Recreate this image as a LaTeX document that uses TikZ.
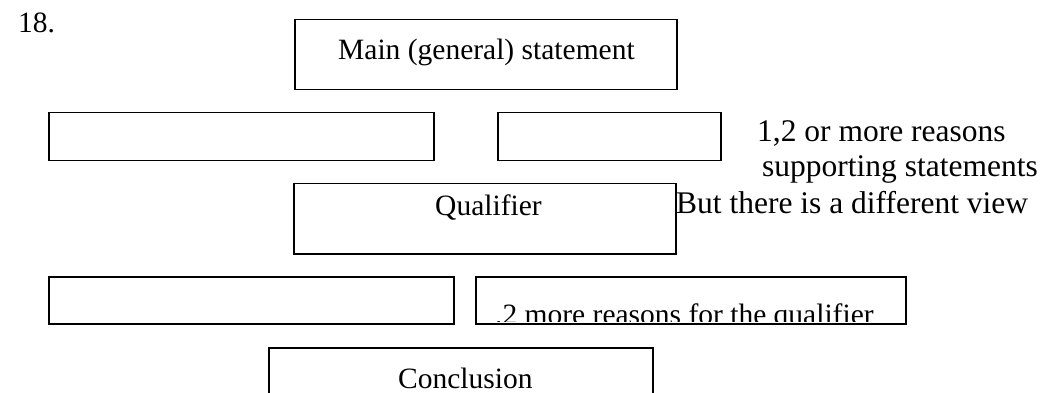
\documentclass[tikz,border=0pt]{standalone}
\usepackage{fontspec}
\setmainfont{Liberation Serif}
\begin{document}
\begin{tikzpicture}[x=1pt,y=-1pt,
  box/.style={draw=black,line width=1.5pt,inner sep=0pt,anchor=north west},
  lbl/.style={anchor=base west,inner sep=0pt,font=\fontsize{29.5}{36}\selectfont},
  side/.style={anchor=base west,inner sep=0pt,font=\fontsize{31.5}{38}\selectfont}]
\useasboundingbox (0,0) rectangle (1050,393);
\clip (0,0) rectangle (1050,393);
\node[lbl] (num) at (18,33) {18.};
% boxes
\node[box,minimum width=382pt,minimum height=70pt] (main) at (294,19) {};
\node[box,minimum width=385pt,minimum height=48pt] (r2l) at (48,112) {};
\node[box,minimum width=223pt,minimum height=48pt] (r2r) at (497,112) {};
\node[box,minimum width=382pt,minimum height=70pt] (qual) at (293,183) {};
\node[box,minimum width=405pt,minimum height=47pt] (r4l) at (48,276) {};
\node[box,minimum width=430pt,minimum height=47pt] (r4r) at (475,276) {};
\node[box,minimum width=384pt,minimum height=70pt] (concl) at (268,347) {};
% texts
\node[lbl] (tmain) at (338,60) {Main (general) statement};
\node[lbl] (tqual) at (435,215) {Qualifier};
\node[side] (s1) at (757,142) {1,2 or more reasons};
\node[side] (s2) at (762,177) {supporting statements};
\node[side] (s3) at (676,213) {But there is a different view};
\begin{scope}
\clip (475,276) rectangle (905,321.5);
\node[lbl] (t4) at (495,324) {.2 more reasons for the qualifier};
\end{scope}
\node[lbl] (tconcl) at (398,388) {Conclusion};
\end{tikzpicture}
\end{document}
